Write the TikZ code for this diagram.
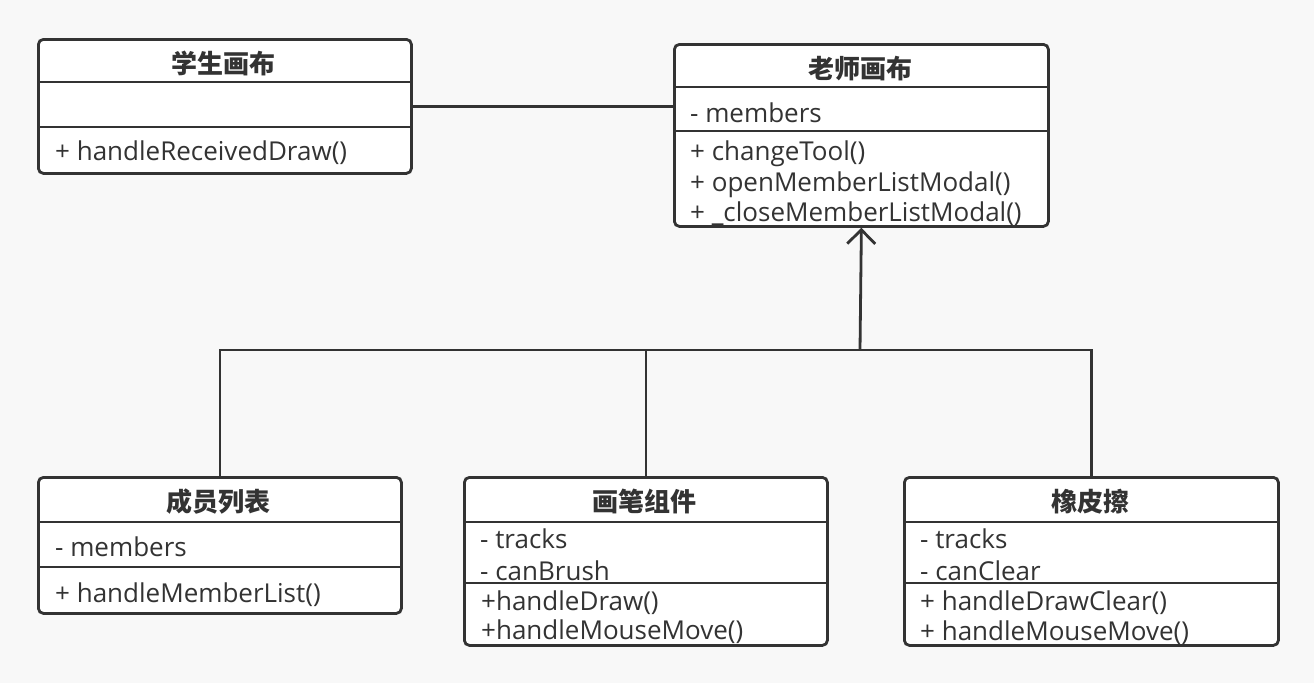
\documentclass[tikz,border=0pt]{standalone}
\usepackage{fontspec}
\setmainfont{Open Sans}
\newfontfamily\cjk{Noto Sans CJK SC}
\usetikzlibrary{arrows.meta}
\definecolor{ink}{HTML}{333333}
\definecolor{paper}{HTML}{F8F8F8}

\begin{document}
\begin{tikzpicture}[x=1pt,y=-1pt,
  cls/.style={draw=ink,fill=white,line width=2.8pt,rounded corners=5pt,inner sep=0pt,anchor=north west},
  ttl/.style={font=\cjk\bfseries\fontsize{26}{26}\selectfont,text=ink,anchor=base,inner sep=0pt},
  mem/.style={font=\fontsize{26}{30}\selectfont,text=ink,anchor=base west,inner sep=0pt},
  sep/.style={draw=ink,line width=2.8pt},
  link/.style={draw=ink,line width=2.8pt}]

  \fill[paper] (0,0) rectangle (1314,683);
  \useasboundingbox (0,0) rectangle (1314,683);

  % student canvas
  \node[cls,minimum width=373pt,minimum height=134pt] (student) at (37,38) {};
  \node[ttl] (studentT) at (223.5,73) {学生画布};
  \draw[sep] (37,82) -- (410,82);
  \draw[sep] (37,127) -- (410,127);
  \node[mem] (studentM1) at (55,160) {+ handleReceivedDraw()};

  % teacher canvas
  \node[cls,minimum width=374pt,minimum height=182pt] (teacher) at (673,43) {};
  \node[ttl] (teacherT) at (860,78) {老师画布};
  \draw[sep] (673,87) -- (1047,87);
  \draw[sep] (673,131) -- (1047,131);
  \node[mem] (teacherA1) at (690,122) {- members};
  \node[mem] (teacherM1) at (690,160) {+ changeTool()};
  \node[mem] (teacherM2) at (690,191) {+ openMemberListModal()};
  \node[mem] (teacherM3) at (690,221) {+ \_closeMemberListModal()};

  % member list
  \node[cls,minimum width=363pt,minimum height=136pt] (members) at (37,476) {};
  \node[ttl] (membersT) at (218.5,511) {成员列表};
  \draw[sep] (37,522) -- (400,522);
  \draw[sep] (37,567) -- (400,567);
  \node[mem] (membersA1) at (55,556) {- members};
  \node[mem] (membersM1) at (55,602) {+ handleMemberList()};

  % brush
  \node[cls,minimum width=363pt,minimum height=168pt] (brush) at (463,476) {};
  \node[ttl] (brushT) at (644.5,511) {画笔组件};
  \draw[sep] (463,522) -- (826,522);
  \draw[sep] (463,583) -- (826,583);
  \node[mem] (brushA1) at (480,548) {- tracks};
  \node[mem] (brushA2) at (480,580) {- canBrush};
  \node[mem] (brushM1) at (481,610) {+handleDraw()};
  \node[mem] (brushM2) at (481,639) {+handleMouseMove()};

  % eraser
  \node[cls,minimum width=374pt,minimum height=168pt] (eraser) at (903,476) {};
  \node[ttl] (eraserT) at (1090,511) {橡皮擦};
  \draw[sep] (903,522) -- (1277,522);
  \draw[sep] (903,583) -- (1277,583);
  \node[mem] (eraserA1) at (920,548) {- tracks};
  \node[mem] (eraserA2) at (920,580) {- canClear};
  \node[mem] (eraserM1) at (920,610) {+ handleDrawClear()};
  \node[mem] (eraserM2) at (920,640) {+ handleMouseMove()};

  % connectors
  \coordinate (bus) at (860,350);
  \draw[link] (student.east) -- (student.east -| teacher.west);
  \draw[link] (members.north) |- (eraser.north |- bus) -- (eraser.north);
  \draw[link] (brush.north) -- (brush.north |- bus);
  \draw[link,-{Straight Barb[length=14pt,width=28pt]}] (bus) -- (teacher.south);
\end{tikzpicture}
\end{document}
